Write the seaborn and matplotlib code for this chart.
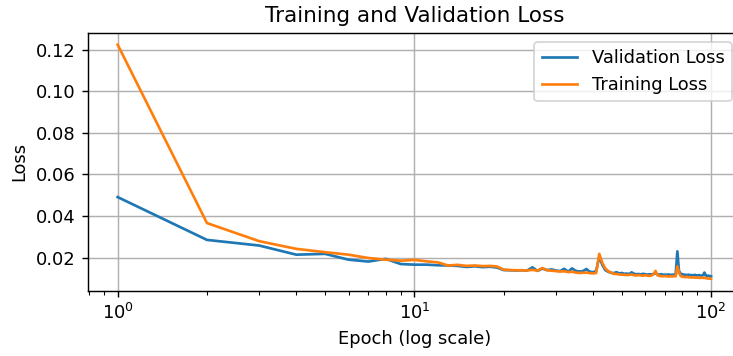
import numpy as np
import pandas as pd
import matplotlib
matplotlib.use("Agg")
import matplotlib.pyplot as plt
import seaborn as sns

epochs = list(range(1, 101))

val_loss = [
    0.0491, 0.0285, 0.0258, 0.0214, 0.0218, 0.0190, 0.0181, 0.0194, 0.0169, 0.0166,
    0.0166, 0.0163, 0.0162, 0.0160, 0.0155, 0.0158, 0.0154, 0.0156, 0.0152, 0.0140,
    0.0139, 0.0138, 0.0139, 0.0138, 0.0153, 0.0136, 0.0147, 0.0140, 0.0143, 0.0138,
    0.0135, 0.0146, 0.0132, 0.0148, 0.0136, 0.0133, 0.0135, 0.0145, 0.0132, 0.0130,
    0.0135, 0.0205, 0.0165, 0.0140, 0.0132, 0.0127, 0.0125, 0.0130, 0.0124, 0.0126,
    0.0122, 0.0123, 0.0121, 0.0129, 0.0122, 0.0120, 0.0121, 0.0119, 0.0122, 0.0120,
    0.0118, 0.0120, 0.0119, 0.0121, 0.0125, 0.0119, 0.0118, 0.0120, 0.0117, 0.0118,
    0.0117, 0.0119, 0.0116, 0.0118, 0.0117, 0.0118, 0.0230, 0.0135, 0.0122, 0.0120,
    0.0118, 0.0117, 0.0116, 0.0118, 0.0115, 0.0116, 0.0114, 0.0117, 0.0115, 0.0114,
    0.0116, 0.0114, 0.0113, 0.0115, 0.0128, 0.0114, 0.0112, 0.0113, 0.0111, 0.0110,
]

train_loss = [
    0.1224, 0.0366, 0.0279, 0.0242, 0.0226, 0.0214, 0.0198, 0.0190, 0.0185, 0.0189,
    0.0182, 0.0177, 0.0162, 0.0165, 0.0160, 0.0162, 0.0159, 0.0160, 0.0157, 0.0142,
    0.0140, 0.0139, 0.0139, 0.0138, 0.0141, 0.0137, 0.0150, 0.0139, 0.0137, 0.0135,
    0.0133, 0.0134, 0.0130, 0.0132, 0.0128, 0.0126, 0.0127, 0.0128, 0.0125, 0.0124,
    0.0126, 0.0218, 0.0175, 0.0148, 0.0135, 0.0128, 0.0122, 0.0121, 0.0119, 0.0118,
    0.0117, 0.0116, 0.0117, 0.0119, 0.0115, 0.0114, 0.0116, 0.0114, 0.0113, 0.0115,
    0.0113, 0.0112, 0.0114, 0.0120, 0.0136, 0.0115, 0.0112, 0.0111, 0.0110, 0.0111,
    0.0110, 0.0109, 0.0110, 0.0109, 0.0111, 0.0110, 0.0158, 0.0128, 0.0112, 0.0108,
    0.0107, 0.0106, 0.0108, 0.0105, 0.0106, 0.0104, 0.0105, 0.0104, 0.0103, 0.0105,
    0.0103, 0.0102, 0.0104, 0.0102, 0.0103, 0.0101, 0.0100, 0.0099, 0.0099, 0.0098,
]

df = pd.DataFrame({
    "Epoch": epochs * 2,
    "Loss": val_loss + train_loss,
    "Series": ["Validation Loss"] * 100 + ["Training Loss"] * 100,
})

DPI = 129
fig = plt.figure(figsize=(733 / DPI, 356 / DPI), dpi=DPI)
ax = fig.add_axes([88 / 733, 65.5 / 356, (740.7 - 88) / 733, (290.5 - 33) / 356])
sns.lineplot(data=df, x="Epoch", y="Loss", hue="Series",
             palette={"Validation Loss": "#1f77b4", "Training Loss": "#ff7f0e"},
             linewidth=1.5, ax=ax)
ax.set_xscale("log")
ax.grid(True, color="#b0b0b0", linewidth=0.8)
ax.set_axisbelow(True)
ax.set_title("Training and Validation Loss", fontsize=12)
ax.set_xlabel("Epoch (log scale)")
ax.set_ylabel("Loss")
ax.legend(loc="upper right", title=None)
fig.savefig("out.png", dpi=DPI)
